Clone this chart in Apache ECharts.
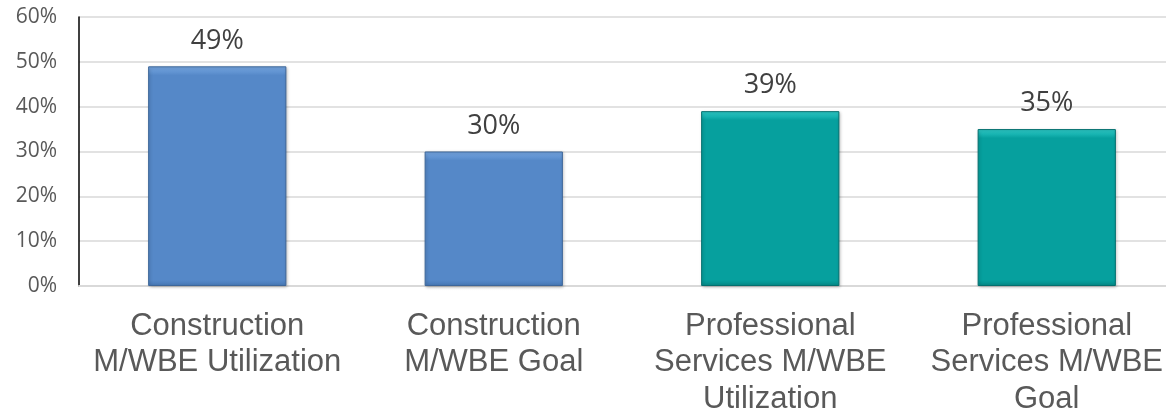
<!DOCTYPE html>
<html>
<head>
<meta charset="utf-8">
<script src="https://cdn.jsdelivr.net/npm/echarts@6/dist/echarts.min.js"></script>
<style>
html,body{margin:0;padding:0;background:#fff;overflow:hidden;width:1166px;height:413px;}
#c{width:1185px;height:413px;}
</style>
</head>
<body>
<div id="c"></div>
<script>
const categories = [
  "Construction\nM/WBE Utilization",
  "Construction\nM/WBE Goal",
  "Professional\nServices M/WBE\nUtilization",
  "Professional\nServices M/WBE\nGoal"
];
const values = [49, 30, 39, 35];
const yTicks = [0, 10, 20, 30, 40, 50, 60];

const palettes = [
  {top: '#78a9e4', main: '#5588c8', bottom: '#4677b5', border: '#3d6699'},
  {top: '#78a9e4', main: '#5588c8', bottom: '#4677b5', border: '#3d6699'},
  {top: '#30cfcc', main: '#06a09e', bottom: '#058886', border: '#046f6e'},
  {top: '#30cfcc', main: '#06a09e', bottom: '#058886', border: '#046f6e'}
];
const plotHeight = 269;

function bevel(v, p) {
  const h = v / yTicks[yTicks.length - 1] * plotHeight;
  const t = 9 / h, b = 6 / h;
  return {
    type: 'linear', x: 0, y: 0, x2: 0, y2: 1,
    colorStops: [
      {offset: 0, color: p.top},
      {offset: t, color: p.main},
      {offset: 1 - b, color: p.main},
      {offset: 1, color: p.bottom}
    ]
  };
}

const chart = echarts.init(document.getElementById('c'), null, {renderer: 'canvas'});
chart.setOption({
  animation: false,
  backgroundColor: '#ffffff',
  grid: {left: 79, right: 0, top: 17, bottom: 127, containLabel: false, outerBoundsMode: 'none'},
  xAxis: {
    type: 'category',
    data: categories,
    axisTick: {show: false},
    axisLine: {show: true, lineStyle: {color: '#d9d9d9', width: 2}},
    axisLabel: {
      interval: 0,
      margin: 22,
      fontFamily: 'Liberation Sans, Arial, sans-serif',
      fontSize: 31,
      lineHeight: 36.5,
      color: '#595959'
    }
  },
  yAxis: {
    type: 'value',
    min: yTicks[0],
    max: yTicks[yTicks.length - 1],
    interval: 10,
    axisLine: {show: true, lineStyle: {color: '#000000', width: 1.5}},
    axisTick: {show: false},
    splitLine: {show: true, lineStyle: {color: '#d9d9d9', width: 1.5}},
    axisLabel: {
      margin: 22,
      fontFamily: 'Open Sans, sans-serif',
      fontSize: 21,
      color: '#595959',
      formatter: v => v + '%'
    }
  },
  series: [{
    type: 'bar',
    barWidth: '50%',
    data: values.map((v, i) => ({
      value: v,
      itemStyle: {
        color: bevel(v, palettes[i]),
        borderColor: palettes[i].border,
        borderWidth: 1,
        shadowColor: 'rgba(0,0,0,0.25)',
        shadowBlur: 3,
        shadowOffsetX: 1,
        shadowOffsetY: 1
      }
    })),
    label: {
      show: true,
      position: 'top',
      distance: 12,
      fontFamily: 'Open Sans, sans-serif',
      fontSize: 27,
      color: '#404040',
      formatter: p => p.value + '%'
    }
  }]
});
</script>
</body>
</html>
